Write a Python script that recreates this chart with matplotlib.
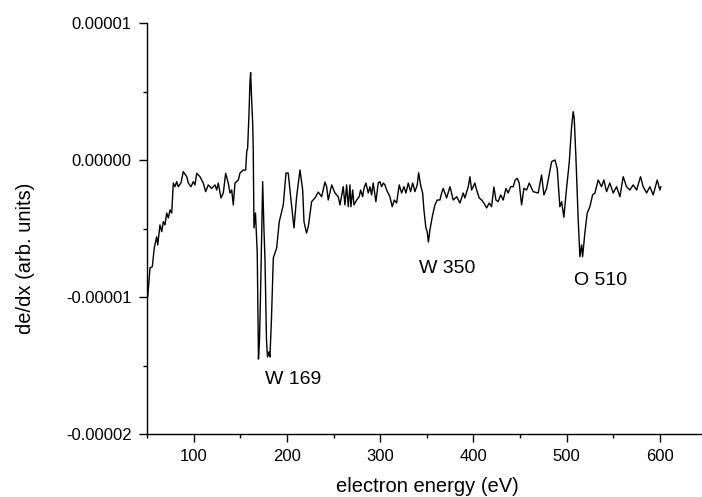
import matplotlib
matplotlib.use("Agg")
import matplotlib.pyplot as plt
import numpy as np

plt.rcParams['font.family'] = ['Liberation Sans', 'DejaVu Sans']
plt.rcParams['axes.unicode_minus'] = False

# energy (eV) and derivative signal (units of 1e-5)
energy = [50.8, 53.2, 55.7, 57.8, 60.4, 61.5, 63.9, 65.8, 67.5, 69.3, 71.1, 72.8,
          74.7, 76.5, 78.2, 80.0, 81.8, 83.5, 86.4, 88.9, 92.6, 94.3, 97.2, 99.6,
          101.4, 103.3, 106.8, 110.3, 112.9, 115.7, 119.3, 122.9, 124.7, 126.4, 129.3, 131.8,
          134.3, 137.1, 139.0, 140.8, 142.5, 144.3, 147.9, 149.7, 153.2, 155.8, 156.9, 157.9,
          159.3, 160.4, 161.1, 162.0, 163.3, 163.9, 164.7, 166.3, 168.2, 169.5, 170.6, 171.6,
          174.0, 175.4, 176.5, 178.1, 179.2, 180.8, 181.8, 183.4, 185.4, 189.0, 191.8, 194.4,
          196.1, 199.0, 201.4, 204.0, 207.6, 210.4, 214.0, 216.9, 218.3, 221.0, 222.9, 226.5,
          230.1, 233.6, 237.2, 240.8, 242.6, 244.3, 248.0, 251.5, 255.0, 256.9, 260.4, 262.2,
          264.0, 265.8, 267.6, 268.6, 270.5, 271.9, 274.8, 277.5, 279.0, 281.2, 282.6, 284.7,
          287.2, 289.0, 290.8, 292.5, 295.4, 297.9, 299.7, 301.5, 303.3, 305.1, 306.9, 310.4,
          312.9, 315.1, 317.6, 320.4, 323.0, 325.5, 327.6, 330.1, 332.6, 334.8, 337.2, 339.7,
          341.2, 343.3, 345.5, 346.9, 349.0, 350.4, 351.7, 353.3, 356.2, 358.7, 361.1, 364.0,
          365.9, 367.6, 371.2, 374.8, 378.3, 382.0, 385.5, 389.0, 390.8, 394.4, 396.2, 398.0,
          399.7, 401.5, 403.4, 406.1, 408.7, 411.2, 414.1, 416.9, 419.4, 421.9, 424.1, 426.5,
          429.1, 431.9, 434.8, 437.2, 439.8, 442.6, 444.7, 446.9, 449.0, 451.6, 454.1, 457.0,
          459.8, 464.0, 469.4, 473.0, 475.5, 478.4, 483.8, 487.3, 489.8, 492.6, 494.5, 496.9,
          499.8, 502.6, 505.2, 506.9, 508.0, 509.8, 512.3, 514.1, 515.9, 517.0, 519.4, 521.9,
          524.8, 527.7, 530.2, 533.7, 537.3, 539.8, 542.7, 546.2, 549.8, 553.4, 557.0, 560.5,
          564.1, 567.7, 571.2, 574.9, 579.1, 581.9, 585.6, 589.1, 592.7, 597.0, 599.8, 600.9]

signal = [-0.998, -0.788, -0.779, -0.642, -0.560, -0.620, -0.474, -0.523, -0.450, -0.474, -0.387, -0.423,
          -0.365, -0.387, -0.168, -0.195, -0.158, -0.195, -0.168, -0.085, -0.122, -0.168, -0.195, -0.158,
          -0.182, -0.097, -0.122, -0.168, -0.231, -0.182, -0.207, -0.182, -0.219, -0.168, -0.277, -0.241,
          -0.097, -0.168, -0.241, -0.219, -0.328, -0.168, -0.146, -0.095, -0.073, -0.073, 0.061, 0.088,
          0.328, 0.572, 0.637, 0.474, 0.270, 0.073, -0.496, -0.387, -0.679, -1.453, -1.314, -1.022,
          -0.158, -0.511, -0.730, -1.314, -1.438, -1.401, -1.438, -1.168, -0.715, -0.642, -0.450, -0.377,
          -0.328, -0.095, -0.095, -0.268, -0.496, -0.268, -0.073, -0.219, -0.450, -0.533, -0.487, -0.304,
          -0.277, -0.234, -0.268, -0.161, -0.195, -0.292, -0.182, -0.241, -0.268, -0.328, -0.195, -0.328,
          -0.182, -0.341, -0.182, -0.341, -0.219, -0.328, -0.292, -0.268, -0.219, -0.268, -0.207, -0.168,
          -0.241, -0.195, -0.255, -0.168, -0.304, -0.168, -0.158, -0.195, -0.168, -0.182, -0.219, -0.268,
          -0.341, -0.292, -0.314, -0.182, -0.241, -0.195, -0.241, -0.168, -0.231, -0.168, -0.231, -0.182,
          -0.093, -0.182, -0.241, -0.365, -0.496, -0.523, -0.599, -0.511, -0.401, -0.328, -0.292, -0.292,
          -0.241, -0.207, -0.277, -0.195, -0.292, -0.268, -0.314, -0.241, -0.277, -0.195, -0.122, -0.219,
          -0.195, -0.168, -0.219, -0.277, -0.292, -0.314, -0.350, -0.314, -0.341, -0.197, -0.292, -0.304,
          -0.255, -0.292, -0.207, -0.241, -0.195, -0.195, -0.146, -0.134, -0.168, -0.328, -0.207, -0.219,
          -0.168, -0.231, -0.241, -0.109, -0.255, -0.207, -0.012, 0.000, -0.061, -0.341, -0.304, -0.418,
          -0.207, -0.024, 0.243, 0.353, 0.307, 0.024, -0.438, -0.706, -0.620, -0.706, -0.533, -0.389,
          -0.341, -0.255, -0.241, -0.146, -0.195, -0.146, -0.231, -0.168, -0.241, -0.195, -0.268, -0.122,
          -0.195, -0.219, -0.182, -0.219, -0.122, -0.195, -0.241, -0.195, -0.255, -0.146, -0.219, -0.195]

yticks = [-0.00002, -0.00001, 0.0, 0.00001]
ytick_labels = ['-0.00002', '-0.00001', '0.00000', '0.00001']

# peak labels: (text, energy, value in 1e-5)
peaks = [('W 169', 207, -1.60), ('W 350', 372, -0.79), ('O 510', 536, -0.88)]

fig = plt.figure(figsize=(7.02, 4.97), dpi=100)
ax = fig.add_axes([147/702, 63/497, 555/702, 411/497])

ax.plot(energy, np.array(signal) * 1e-5, color='black', lw=1.0)

ax.set_xlim(50, 645)
ax.set_ylim(-0.00002, 0.00001)
ax.set_xticks([100, 200, 300, 400, 500, 600])
ax.set_xticks(np.arange(50, 650, 50), minor=True)
ax.set_yticks(yticks)
ax.set_yticklabels(ytick_labels)
ax.set_yticks(np.arange(-0.00002, 0.0000101, 0.000005), minor=True)

for side in ['top', 'right']:
    ax.spines[side].set_visible(False)
for side in ['left', 'bottom']:
    ax.spines[side].set_linewidth(1.0)

ax.tick_params(which='major', direction='out', length=6, width=1.0, labelsize=12, pad=5)
ax.tick_params(which='minor', direction='out', length=3, width=1.0)

for txt, ex, val in peaks:
    ax.text(ex, val * 1e-5, txt, fontsize=14, ha='center', va='center')

fig.text(427/702, 1 - 487/497, 'electron energy (eV)', fontsize=14.5, ha='center', va='center')
fig.text(26/702, 1 - 258/497, 'de/dx (arb. units)', fontsize=14.5, ha='center', va='center',
         rotation=90)

fig.savefig('out.png', dpi=100)
